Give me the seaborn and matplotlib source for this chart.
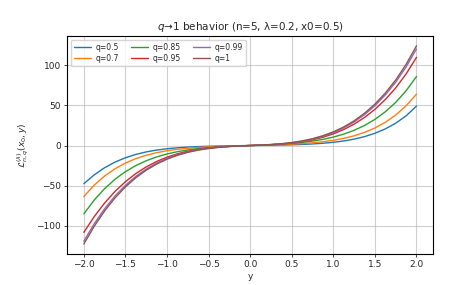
import numpy as np
import pandas as pd
import matplotlib
matplotlib.use("Agg")
import matplotlib.pyplot as plt
import seaborn as sns

# y (x-axis) sample positions
y_vals = [-2.0, -1.875, -1.75, -1.625, -1.5, -1.375, -1.25, -1.125, -1.0,
          -0.875, -0.75, -0.625, -0.5, -0.375, -0.25, -0.125, 0.0,
          0.125, 0.25, 0.375, 0.5, 0.625, 0.75, 0.875, 1.0,
          1.125, 1.25, 1.375, 1.5, 1.625, 1.75, 1.875, 2.0]

series_labels = ["q=0.5", "q=0.7", "q=0.85", "q=0.95", "q=0.99", "q=1"]

q05 = [-47.5, -36.5, -27.6, -20.6, -15.2, -11.06, -7.95, -5.66, -4.0,
       -2.81, -1.96, -1.36, -0.94, -0.62, -0.38, -0.18, 0.0,
       0.18, 0.38, 0.62, 0.94, 1.36, 1.96, 2.81, 4.0,
       5.66, 7.95, 11.06, 15.2, 20.66, 27.74, 36.9, 49.0]
q07 = [-63.4, -49.2, -37.9, -28.89, -21.8, -16.31, -12.09, -8.9, -6.5,
       -4.72, -3.4, -2.43, -1.7, -1.14, -0.71, -0.34, 0.0,
       0.34, 0.71, 1.14, 1.7, 2.43, 3.4, 4.72, 6.5,
       8.9, 12.09, 16.31, 21.8, 28.89, 37.94, 49.4, 63.8]
q085 = [-85.0, -67.8, -53.6, -41.95, -32.5, -24.93, -18.91, -14.18, -10.5,
        -7.67, -5.51, -3.89, -2.67, -1.76, -1.06, -0.5, 0.0,
        0.5, 1.06, 1.76, 2.67, 3.89, 5.51, 7.67, 10.5,
        14.18, 18.91, 24.93, 32.5, 41.95, 53.63, 68.1, 85.8]
q095 = [-108.0, -88.4, -71.5, -57.1, -45.0, -34.9, -26.6, -19.87, -14.5,
        -10.3, -7.09, -4.7, -2.99, -1.79, -0.98, -0.43, 0.0,
        0.43, 0.98, 1.79, 2.99, 4.7, 7.09, 10.3, 14.5,
        19.87, 26.6, 34.9, 45.0, 57.16, 71.64, 89.0, 109.6]
q099 = [-119.0, -97.3, -78.6, -62.8, -49.5, -38.41, -29.29, -21.9, -16.0,
        -11.38, -7.85, -5.22, -3.32, -2.0, -1.1, -0.48, 0.0,
        0.48, 1.1, 2.0, 3.32, 5.22, 7.85, 11.38, 16.0,
        21.9, 29.29, 38.41, 49.5, 62.84, 78.73, 97.7, 120.0]
q1 = [-122.5, -100.4, -81.4, -65.1, -51.5, -40.11, -30.72, -23.1, -17.0,
      -12.21, -8.52, -5.75, -3.73, -2.29, -1.29, -0.58, 0.0,
      0.58, 1.29, 2.29, 3.73, 5.75, 8.52, 12.21, 17.0,
      23.1, 30.72, 40.11, 51.5, 65.19, 81.47, 100.9, 124.0]

all_series = [q05, q07, q085, q095, q099, q1]

rows = []
for lab, vals in zip(series_labels, all_series):
    for yy, vv in zip(y_vals, vals):
        rows.append({"y": yy, "value": vv, "series": lab})
df = pd.DataFrame(rows)

sns.set_style("white")
plt.rcParams["font.family"] = ["DejaVu Sans"]

fig = plt.figure(figsize=(4.54, 2.85), dpi=100)
ax = fig.add_axes([0.148, 0.109, 0.806, 0.765])

palette = ["#1f77b4", "#ff7f0e", "#2ca02c", "#d62728", "#9467bd", "#8c564b"]
sns.lineplot(data=df, x="y", y="value", hue="series", palette=palette,
             hue_order=series_labels, linewidth=1.0, ax=ax, legend=False)

ax.set_xticks([-2.0, -1.5, -1.0, -0.5, 0.0, 0.5, 1.0, 1.5, 2.0])
ax.set_yticks([-100, -50, 0, 50, 100])
ax.grid(True, color="#b0b0b0", alpha=0.6, linewidth=0.8)
for s in ax.spines.values():
    s.set_color("black")
    s.set_linewidth(0.8)
ax.tick_params(axis="both", labelsize=6.5, length=2.5, width=0.6, direction="out",
               left=True, bottom=True, pad=2)

ax.set_xlabel("y", fontsize=6.5, labelpad=2)
ax.set_ylabel(r"$\mathcal{L}^{(\lambda)}_{n,q}(x_0, y)$", fontsize=6.5, labelpad=4)
ax.set_title(r"$q$→1 behavior (n=5, λ=0.2, x0=0.5)", fontsize=7.5, pad=4)

handles = [plt.Line2D([0], [0], color=c, linewidth=1.0) for c in palette]
ax.legend(handles, series_labels, loc="upper left", ncol=3, fontsize=5.5,
          frameon=True, handlelength=2.2, columnspacing=1.6,
          borderpad=0.4, labelspacing=0.3, handletextpad=0.6)

fig.savefig("out.png", dpi=100)
